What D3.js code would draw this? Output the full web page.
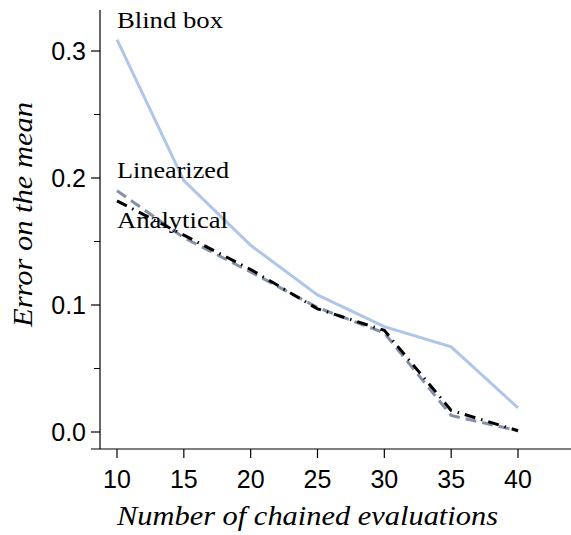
<!DOCTYPE html>
<html><head><meta charset="utf-8">
<script src="https://cdn.jsdelivr.net/npm/d3@7"></script>
<style>body{margin:0;background:#fff}</style>
</head><body>
<svg id="c" width="571" height="535"></svg>
<script>
const evaluations = [10, 15, 20, 25, 30, 35, 40];
const blindBox   = [0.309, 0.198, 0.147, 0.108, 0.083, 0.067, 0.019];
const linearized = [0.190, 0.153, 0.126, 0.098, 0.078, 0.013, 0.001];
const analytical = [0.182, 0.155, 0.128, 0.097, 0.080, 0.017, 0.001];
const xTicks = [10, 15, 20, 25, 30, 35, 40];
const yTicks = [0.0, 0.1, 0.2, 0.3];
const yMinor = [0.05, 0.15, 0.25];

const svg = d3.select("#c");
const x = d3.scaleLinear().domain([10, 40]).range([117, 518]);
const y = d3.scaleLinear().domain([0, 0.3]).range([432, 51]);

svg.append("line").attr("x1",100).attr("x2",100).attr("y1",10).attr("y2",449).attr("stroke","#000").attr("stroke-width",1.2);
svg.append("line").attr("x1",91).attr("x2",571).attr("y1",449).attr("y2",449).attr("stroke","#000").attr("stroke-width",1.2);

yTicks.forEach(t=>{
  svg.append("line").attr("x1",91).attr("x2",100).attr("y1",y(t)).attr("y2",y(t)).attr("stroke","#000").attr("stroke-width",1.2);
  svg.append("text").attr("x",86).attr("y",y(t)+9).attr("text-anchor","end")
    .style("font-family","'Liberation Sans', Arial, sans-serif").attr("font-size",25).text(d3.format(".1f")(t));
});
yMinor.forEach(t=>{
  svg.append("line").attr("x1",94).attr("x2",100).attr("y1",y(t)).attr("y2",y(t)).attr("stroke","#000").attr("stroke-width",1);
});
xTicks.forEach(t=>{
  svg.append("line").attr("x1",x(t)).attr("x2",x(t)).attr("y1",449).attr("y2",458).attr("stroke","#000").attr("stroke-width",1.2);
  svg.append("text").attr("x",x(t)).attr("y",488).attr("text-anchor","middle")
    .style("font-family","'Liberation Sans', Arial, sans-serif").attr("font-size",25).text(t);
});

const line = d3.line().x(d=>x(d[0])).y(d=>y(d[1]));
const mk = arr => evaluations.map((e,i)=>[e,arr[i]]);
svg.append("path").attr("d",line(mk(blindBox))).attr("fill","none").attr("stroke","#b0c6e8").attr("stroke-width",3);
svg.append("path").attr("d",line(mk(linearized))).attr("fill","none").attr("stroke","#8591a8").attr("stroke-width",3).attr("stroke-dasharray","11,6");
svg.append("path").attr("d",line(mk(analytical))).attr("fill","none").attr("stroke","#000").attr("stroke-width",3).attr("stroke-dasharray","11,6,1.5,6");

const serif = "'Liberation Serif', 'Times New Roman', Times, serif";
const lab = (t, yy, w) => svg.append("text").attr("x",117).attr("y",yy).style("font-family",serif).attr("font-size",24)
  .attr("textLength",w).attr("lengthAdjust","spacingAndGlyphs").text(t);
lab("Blind box", 28, 106);
lab("Linearized", 178, 112);
lab("Analytical", 228, 111);

svg.append("text").attr("x",117).attr("y",525).style("font-family",serif)
  .attr("font-style","italic").attr("font-size",27).attr("textLength",381).attr("lengthAdjust","spacingAndGlyphs")
  .text("Number of chained evaluations");
svg.append("text").attr("transform","translate(32,327) rotate(-90)").style("font-family",serif)
  .attr("font-style","italic").attr("font-size",27).attr("textLength",225).attr("lengthAdjust","spacingAndGlyphs")
  .text("Error on the mean");
</script>
</body></html>
